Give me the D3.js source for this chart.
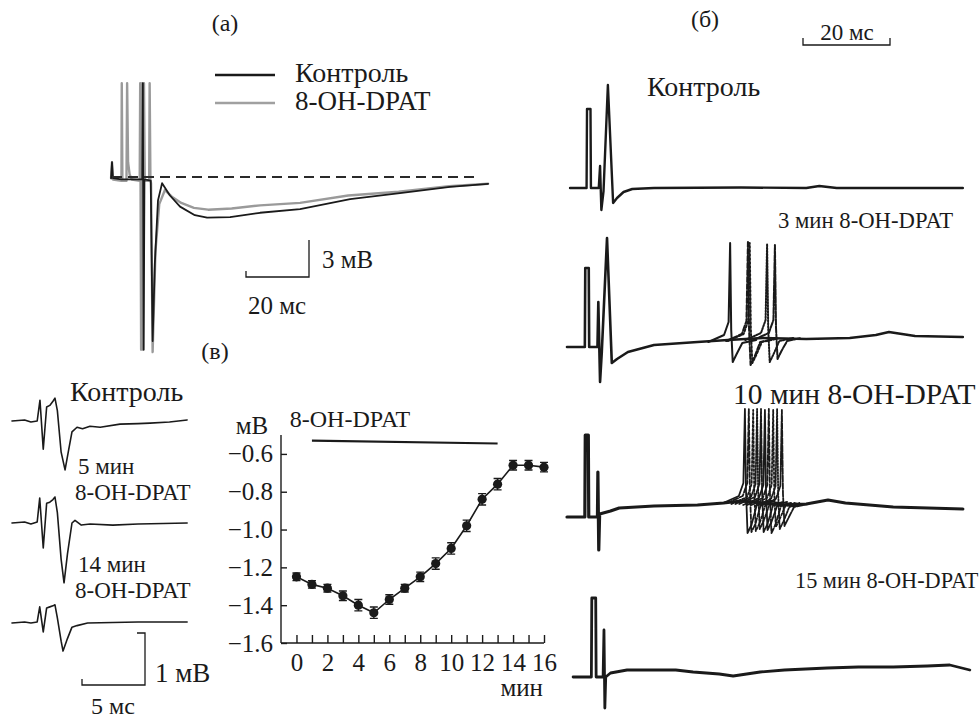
<!DOCTYPE html>
<html lang="ru">
<head>
<meta charset="utf-8">
<title>8-OH-DPAT</title>
<script src="https://cdnjs.cloudflare.com/ajax/libs/d3/7.8.5/d3.min.js"></script>
<style>
body { margin: 0; background: #fff; }
svg { display: block; font-family: "Liberation Serif", "Times New Roman", serif; }
.lbl { font-family: "Liberation Serif", "Times New Roman", serif; font-size: 22px; fill: #1a1a1a; }
.trace { fill: none; stroke: #1a1a1a; stroke-linejoin: round; stroke-linecap: round; }
.axis path, .axis line { stroke: #1a1a1a; stroke-width: 1.4; }
.axis text { font-family: "Liberation Serif", "Times New Roman", serif; font-size: 25px; fill: #1a1a1a; }
</style>
</head>
<body>
<script>
// ---- data ----
// (a) field potentials, [ms, mV]
var ctrlA = [[-0.3,-0.1],[0,1.2],[0.3,-0.1],[3,-0.2],[9.6,-0.2],[9.8,7.6],[10.05,-14],[10.3,-0.2],[12.3,-0.3],[12.9,-13.3],[13.6,-7],[14.6,-1.9],[15.9,-0.5],[18.4,-1.5],[21.6,-2.4],[26.3,-3.1],[30.2,-3.3],[37.5,-3.25],[47,-2.9],[59.7,-2.6],[75.6,-1.8],[91.4,-1.3],[107.3,-0.8],[119.4,-0.55]]
var dpatA = [[-0.3,-0.1],[0,1.2],[0.3,-0.2],[3.0,-0.3],[3.1,7.6],[3.3,-0.3],[4.6,-0.3],[4.8,7.6],[5.1,1.2],[5.6,0.2],[6.3,-0.2],[8.8,-0.3],[8.95,7.6],[9.25,-14],[9.55,7.6],[9.85,-14],[10.15,7.6],[10.4,-0.3],[11.8,-0.3],[11.95,7.6],[12.2,-0.3],[12.4,-0.5],[12.9,-14.2],[13.8,-6],[15,-2.2],[16.8,-1.06],[19,-1.6],[22,-2.1],[26,-2.5],[30.5,-2.65],[38,-2.55],[47,-2.3],[59.7,-2.1],[75,-1.5],[91,-1.2],[107,-0.75],[119.4,-0.55]]

// (б) sweeps, [ms, mV]
var ctrlB = [[0.7,0],[4.5,0],[4.6,7.9],[5.4,7.9],[5.5,0],[7.3,0],[7.6,2.2],[7.9,-2.2],[8.4,-0.3],[9.4,10.3],[10.6,-1.5],[11.5,-1.0],[13,-0.4],[15,-0.1],[20,0],[40,0.05],[55,0],[58,0.2],[62,0],[75,0],[91,0]]
var min3B = [[0,0],[4.1,0],[4.2,7.9],[5.0,7.9],[5.1,0],[7.0,0],[7.2,4.5],[7.6,-3.5],[8.0,-0.5],[9.2,10.9],[10.3,-1.6],[11.5,-1.2],[14,-0.5],[20,0.2],[30,0.5],[37,0.7],[45,0.9],[55,0.8],[65,0.9],[71,1.2],[74,1.5],[77,1.3],[80,1.1],[91,1.0]]
var spikes3 = [{t:37.5,b:0.7,peak:10.4,trough:-1.5},{t:41.6,b:0.8,peak:10.6,trough:-1.8},{t:42.0,b:0.8,peak:10.4,trough:-1.6},{t:46.0,b:0.9,peak:10.3,trough:-1.5},{t:47.8,b:0.9,peak:10.2,trough:-1.2}]
var min10B = [[0,0],[4.1,0],[4.2,8.2],[4.9,8.2],[5.0,0],[7.0,0],[7.1,4.5],[7.3,-3.3],[7.5,0.3],[10,0.6],[12,0.9],[20,1.1],[30,1.2],[36,1.4],[40,1.6],[50,1.2],[55,1.3],[60,1.7],[64,1.4],[75,1.0],[91,0.8]]
var spikes10 = [{t:40.9,b:1.6,peak:10.8,trough:-1.6},{t:41.8,b:1.6,peak:10.8,trough:-1.5},{t:42.8,b:1.5,peak:10.7,trough:-1.4},{t:43.7,b:1.5,peak:10.8,trough:-1.2},{t:44.6,b:1.5,peak:10.8,trough:-1.5},{t:45.5,b:1.4,peak:10.7,trough:-1.3},{t:46.4,b:1.4,peak:10.8,trough:-1.6},{t:47.4,b:1.4,peak:10.7,trough:-1.0},{t:48.3,b:1.3,peak:10.8,trough:-1.2},{t:49.4,b:1.3,peak:10.7,trough:-0.9}]
var min15B = [[1.4,0],[5.6,0],[5.7,7.9],[6.6,7.9],[6.7,0],[8.3,0],[8.5,4.7],[8.7,-3.1],[8.9,0],[10,0.4],[13.8,0.7],[25,0.7],[29,0.5],[35,0.3],[38.2,0.1],[44.4,0.5],[50,0.7],[59.8,0.9],[67,1.0],[75,1.0],[82.8,1.1],[88,1.2],[92.6,0.7]]

// (в) left: population spikes, [ms, mV]
var ctrlL = [[0,0],[1.0,0.02],[1.5,-0.02],[2.0,0],[2.22,0.4],[2.48,-0.54],[2.75,0.27],[3.0,0.3],[3.25,0.38],[3.41,0.44],[3.6,0.2],[3.9,-0.6],[4.21,-0.94],[4.5,-0.55],[4.76,-0.21],[5.16,-0.12],[5.6,-0.15],[6.19,-0.1],[7,-0.12],[8.57,-0.06],[10,-0.05],[10.95,-0.04],[12.5,-0.02],[13.9,0.02]]
var min5L = [[0,0],[1.0,0.02],[1.5,-0.02],[2.0,0.02],[2.2,0.48],[2.48,-0.48],[2.75,0.38],[3.0,0.4],[3.25,0.45],[3.41,0.5],[3.6,0.2],[3.9,-0.7],[4.13,-1.15],[4.4,-0.6],[4.76,0],[5.0,0.05],[5.5,-0.04],[6.2,-0.02],[8,-0.04],[10,-0.02],[12,-0.01],[13.9,0]]
var min14L = [[0,0],[1.0,0.02],[1.5,0.0],[2.0,0.02],[2.2,0.31],[2.48,-0.17],[2.75,0.29],[3.0,0.31],[3.25,0.33],[3.41,0.35],[3.6,0.1],[3.9,-0.35],[4.05,-0.54],[4.4,-0.3],[4.76,-0.08],[5.16,-0.05],[6,0],[8,0.01],[10,0.02],[12,0.02],[13.9,0.02]]

// (в) right: amplitude over time
var timeMin = [0,1,2,3,4,5,6,7,8,9,10,11,12,13,14,15,16]
var meanMV = [-1.25,-1.29,-1.31,-1.35,-1.40,-1.44,-1.37,-1.31,-1.25,-1.18,-1.10,-0.98,-0.84,-0.76,-0.66,-0.66,-0.67]
var semMV = [0.02,0.02,0.02,0.025,0.03,0.03,0.025,0.02,0.025,0.03,0.03,0.03,0.03,0.03,0.025,0.025,0.025]
var drugBar = [1, 13]
var xTicks = [0,2,4,6,8,10,12,14,16]
var yTicks = [-1.6,-1.4,-1.2,-1.0,-0.8,-0.6]

var svg = d3.select("body").append("svg")
  .attr("width", 980)
  .attr("height", 719)

function label(x, y, txt, size, anchor) {
  return svg.append("text").attr("class", "lbl")
    .attr("x", x).attr("y", y)
    .style("font-size", (size || 22) + "px")
    .attr("text-anchor", anchor || "start")
    .text(txt)
}

function trace(data, x, y, width, color, dash) {
  var line = d3.line().x(function(d) { return x(d[0]) }).y(function(d) { return y(d[1]) })
  return svg.append("path").attr("class", "trace")
    .attr("d", line(data))
    .style("stroke", color || "#1a1a1a")
    .style("stroke-width", width)
    .style("stroke-dasharray", dash || null)
}

// spike sweep around an onset
function spikeSweep(s) {
  return [[s.t - 5, s.b - 0.2], [s.t - 1.4, s.b + 0.5], [s.t - 0.35, s.b + 1.8], [s.t, s.peak],
    [s.t + 0.25, s.b + 1], [s.t + 0.6, s.trough], [s.t + 1.5, s.trough + 0.8], [s.t + 2.8, s.b - 0.3], [s.t + 6, s.b]]
}

// ---------- (a) ----------
label(225, 31, "(а)", 24, "middle")
var xA = d3.scaleLinear().domain([0, 20]).range([112, 175])
var yA = d3.scaleLinear().domain([0, 3]).range([177, 140])

svg.append("line").attr("x1", 215).attr("x2", 275).attr("y1", 75).attr("y2", 75)
  .style("stroke", "#1a1a1a").style("stroke-width", 2.5)
svg.append("line").attr("x1", 215).attr("x2", 275).attr("y1", 103).attr("y2", 103)
  .style("stroke", "#a0a0a0").style("stroke-width", 2.5)
label(295, 82, "Контроль", 28)
label(295, 110, "8-OH-DPAT", 27)

trace(dpatA, xA, yA, 2.4, "#9a9a9a")
trace(ctrlA, xA, yA, 1.8, "#1a1a1a")
svg.append("line")
  .attr("x1", xA(0)).attr("x2", xA(116)).attr("y1", yA(0)).attr("y2", yA(0))
  .style("stroke", "#2a2a2a").style("stroke-width", 2).style("stroke-dasharray", "10,6")

// scale bar (a)
var sbx = 309, sby = 277
svg.append("path")
  .attr("d", "M" + (sbx - (xA(20) - xA(0))) + "," + (sby - 6) + "V" + sby + "H" + sbx + "V" + (sby - (yA(0) - yA(3))))
  .style("fill", "none").style("stroke", "#1a1a1a").style("stroke-width", 1.3)
label(322, 268, "3 мВ", 25)
label(277, 314, "20 мс", 25, "middle")
label(215, 359, "(в)", 24, "middle")

// ---------- (б) ----------
label(705, 27, "(б)", 24, "middle")
var xB = d3.scaleLinear().domain([0, 20]).range([567, 654])
function yB(base) { return d3.scaleLinear().domain([0, 10]).range([base, base - 100]) }

svg.append("path")
  .attr("d", "M803,38V45H" + (803 + xB(20) - xB(0)) + "V38")
  .style("fill", "none").style("stroke", "#1a1a1a").style("stroke-width", 1.3)
label(847, 40, "20 мс", 23, "middle")

label(647, 96, "Контроль", 28)
trace(ctrlB, xB, yB(188), 2.4)

label(778, 228, "3 мин 8-OH-DPAT", 22.7)
var y3 = yB(347)
trace(min3B, xB, y3, 2.6)
var dashes = [null, "5,2", "2,2", "1.5,1.5", "6,1.5"]
spikes3.forEach(function(s, i) { trace(spikeSweep(s), xB, y3, 2, "#1a1a1a", dashes[i % dashes.length]) })

label(733, 404, "10 мин 8-OH-DPAT", 29.5)
var y10 = yB(517)
trace(min10B, xB, y10, 3.2)
spikes10.forEach(function(s, i) { trace(spikeSweep(s), xB, y10, 1.8, "#1a1a1a", dashes[i % dashes.length]) })

label(795, 588, "15 мин 8-OH-DPAT", 22.3)
trace(min15B, xB, yB(677), 2.8)

// ---------- (в) left ----------
var xL = d3.scaleLinear().domain([0, 5]).range([12, 75])
function yL(base) { return d3.scaleLinear().domain([0, 1]).range([base, base - 52]) }
label(70, 401, "Контроль", 28)
trace(ctrlL, xL, yL(421), 1.6)
label(78, 474, "5 мин", 23)
label(75, 500, "8-OH-DPAT", 23)
trace(min5L, xL, yL(523), 1.6)
label(78, 572, "14 мин", 23)
label(75, 598, "8-OH-DPAT", 23)
trace(min14L, xL, yL(623), 1.6)

var lbx = 145, lby = 685
svg.append("path")
  .attr("d", "M" + (lbx - 8) + "," + (lby - (yL(0)(0) - yL(0)(1))) + "H" + lbx + "V" + lby + "H" + (lbx - (xL(5) - xL(0))) + "V" + (lby - 6))
  .style("fill", "none").style("stroke", "#1a1a1a").style("stroke-width", 1.3)
label(155, 682, "1 мВ", 27)
label(113, 714, "5 мс", 24, "middle")

// ---------- (в) right: amplitude plot ----------
var x = d3.scaleLinear().domain([-1, 16]).range([281, 544])
var y = d3.scaleLinear().domain([-1.6, -0.5]).range([643, 435])

label(350, 427, "8-OH-DPAT", 24, "middle")
label(252, 434, "мВ", 25, "middle")

svg.append("line")
  .attr("x1", x(drugBar[0])).attr("x2", x(drugBar[1]))
  .attr("y1", y(-0.530)).attr("y2", y(-0.545))
  .style("stroke", "#1a1a1a").style("stroke-width", 2.2)

svg.append("g").attr("class", "axis x")
  .attr("transform", "translate(0,643)")
  .call(d3.axisBottom(x).tickValues(timeMin).tickSizeInner(-8).tickSizeOuter(0).tickPadding(10)
    .tickFormat(function(d) { return xTicks.indexOf(d) >= 0 ? d : "" }))
svg.append("g").attr("class", "axis y")
  .attr("transform", "translate(281,0)")
  .call(d3.axisLeft(y).tickValues(yTicks).tickSizeInner(-6).tickSizeOuter(0).tickPadding(8)
    .tickFormat(d3.format(".1f")))
svg.selectAll(".axis .domain").attr("d", function() {
  return d3.select(this.parentNode).classed("x") ? "M281,0H544" : "M0,643V435"
})
label(543, 696, "мин", 25, "end")

var pts = timeMin.map(function(t, i) { return { t: t, m: meanMV[i], e: semMV[i] } })
svg.append("path")
  .attr("d", d3.line().x(function(d) { return x(d.t) }).y(function(d) { return y(d.m) })(pts))
  .style("fill", "none").style("stroke", "#1a1a1a").style("stroke-width", 1.6)

var eb = svg.append("g").selectAll("g").data(pts).enter().append("g")
eb.append("path")
  .attr("d", function(d) {
    var cx = x(d.t), y0 = y(d.m - d.e), y1 = y(d.m + d.e)
    return "M" + cx + "," + y0 + "V" + y1 + "M" + (cx - 4) + "," + y0 + "H" + (cx + 4) + "M" + (cx - 4) + "," + y1 + "H" + (cx + 4)
  })
  .style("stroke", "#1a1a1a").style("stroke-width", 1.4).style("fill", "none")
eb.append("circle")
  .attr("cx", function(d) { return x(d.t) })
  .attr("cy", function(d) { return y(d.m) })
  .attr("r", 4.6)
  .style("fill", "#1a1a1a")
</script>
</body>
</html>
